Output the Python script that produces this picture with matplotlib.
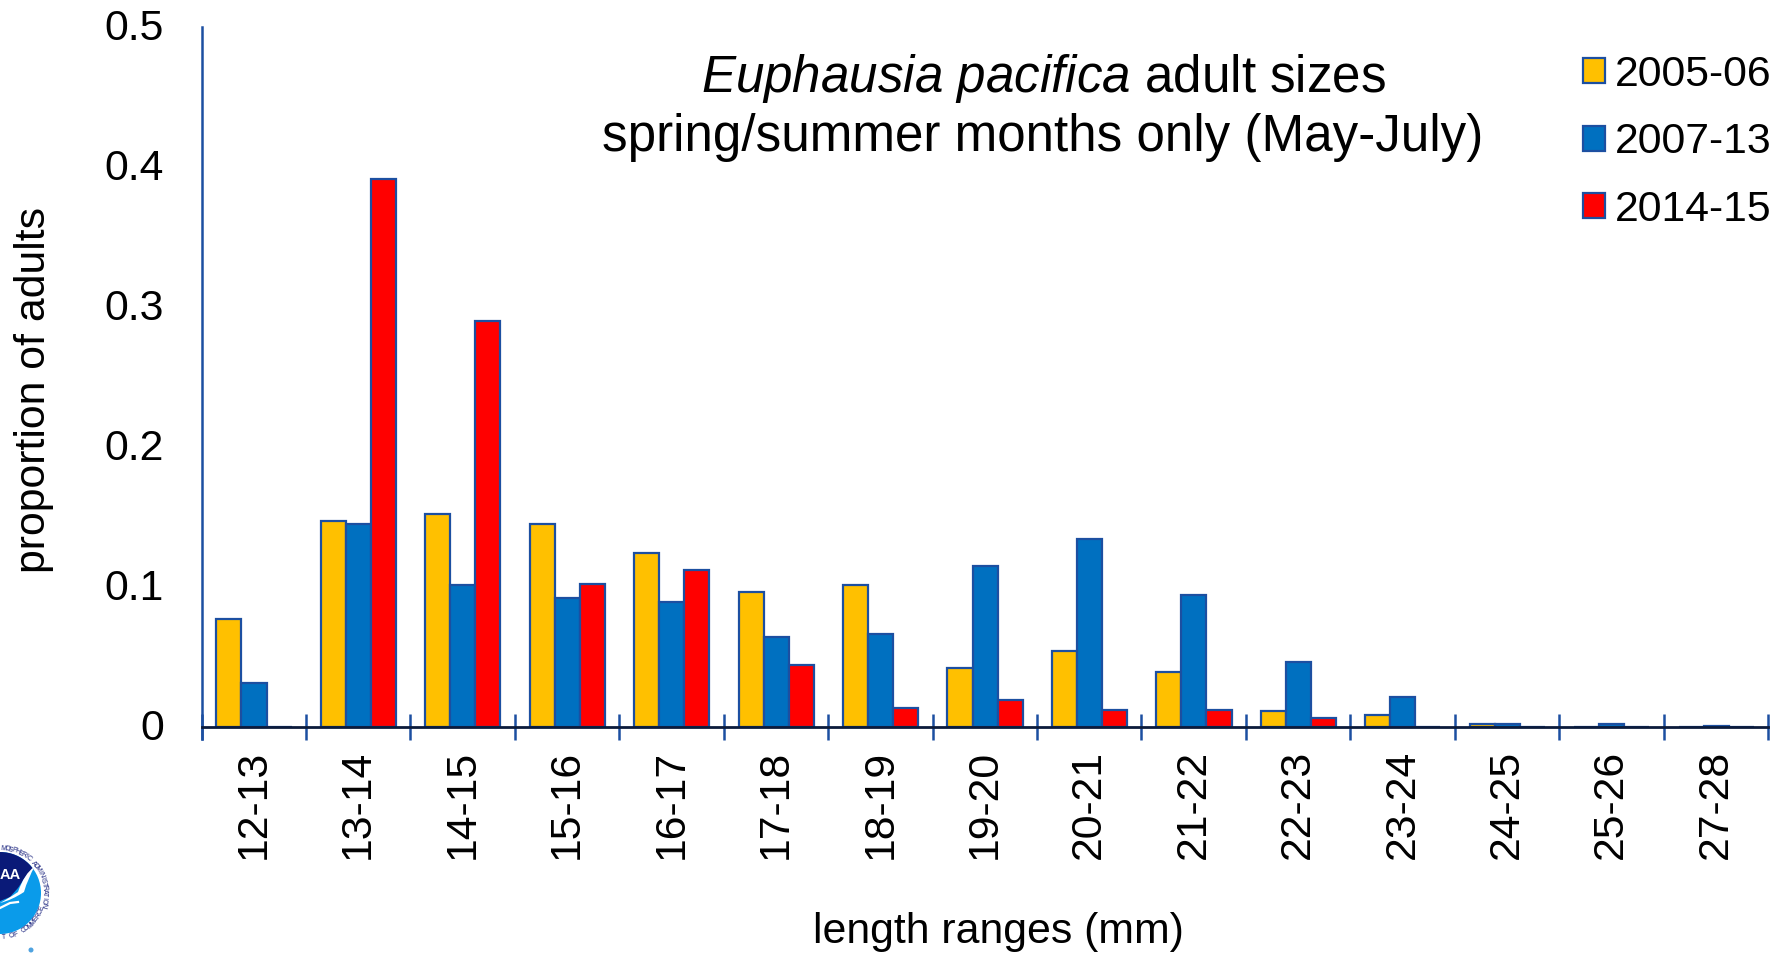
import numpy as np
import matplotlib
matplotlib.use("Agg")
import matplotlib.pyplot as plt
from matplotlib.patches import Circle, PathPatch
from matplotlib.path import Path
from matplotlib.transforms import ScaledTranslation

categories = ["12-13","13-14","14-15","15-16","16-17","17-18","18-19","19-20","20-21","21-22","22-23","23-24","24-25","25-26","27-28"]
series_labels = ["2005-06","2007-13","2014-15"]
s2005 = [0.077,0.147,0.152,0.145,0.124,0.096,0.101,0.042,0.054,0.039,0.011,0.008,0.002,0.0,0.0]
s2007 = [0.031,0.145,0.101,0.092,0.089,0.064,0.066,0.115,0.134,0.094,0.046,0.021,0.002,0.0015,0.0005]
s2014 = [0.0,0.391,0.290,0.102,0.112,0.044,0.013,0.019,0.012,0.012,0.006,0.0,0.0,0.0,0.0]
colors = ["#FFC000","#0070C0","#FF0000"]
yticks = [0,0.1,0.2,0.3,0.4,0.5]
ylabels = ["0","0.1","0.2","0.3","0.4","0.5"]

plt.rcParams['font.family'] = ['Liberation Sans','DejaVu Sans']
plt.rcParams['mathtext.fontset'] = 'custom'
plt.rcParams['mathtext.rm'] = 'Liberation Sans'
plt.rcParams['mathtext.it'] = 'Liberation Sans:italic'

W,H = 1786,955
fig = plt.figure(figsize=(W/100,H/100),dpi=100,facecolor='white')
L,R,T,B = 201.5,1768,27,726.5
ax = fig.add_axes([L/W,1-B/H,(R-L)/W,(B-T)/H])
EDGE = "#1C4FA1"; FS = 30.8; TFS = 36.8
x = np.arange(len(categories))
w = 0.24
for i,(vals,c,lab) in enumerate(zip([s2005,s2007,s2014],colors,series_labels)):
    ax.bar(x+(i-1)*w+0.003,vals,width=w,color=c,edgecolor=EDGE,linewidth=1.6,label=lab,zorder=2)
ax.set_xlim(-0.5,len(categories)-0.5)
ax.set_ylim(0,0.5)
for s in ('top','right'):
    ax.spines[s].set_visible(False)
ax.spines['left'].set_color(EDGE); ax.spines['left'].set_linewidth(1.8)
ax.spines['left'].set_bounds(-13/1400,0.5)
ax.spines['bottom'].set_color("#0B1B3B"); ax.spines['bottom'].set_linewidth(2); ax.spines['bottom'].set_zorder(3)
ax.set_yticks(yticks); ax.set_yticklabels(ylabels,fontsize=FS)
ax.tick_params(axis='y',length=0,pad=27)
shift = ScaledTranslation(0,1.5/72,fig.dpi_scale_trans)
for t in ax.get_yticklabels():
    t.set_transform(t.get_transform()+shift)
ax.set_xticks(x); ax.set_xticklabels(categories,rotation=90,fontsize=FS,ha='center',va='top')
ax.tick_params(axis='x',length=0,pad=17)
ax.set_xticks(np.arange(len(categories)+1)-0.5,minor=True)
ax.tick_params(axis='x',which='minor',direction='inout',length=26*0.72,width=1.8,color=EDGE)

fig.text(34/W,1-390/H,"proportion of adults",rotation=90,fontsize=FS,ha='center',va='center')
fig.text(998/W,1-932/H,"length ranges (mm)",fontsize=FS,ha='center',va='center')
fig.text(1044/W,1-92/H,r"$\mathit{Euphausia\ pacifica}$ adult sizes",fontsize=TFS,ha='center',va='baseline')
fig.text(1042.5/W,1-151/H,"spring/summer months only (May-July)",fontsize=TFS,ha='center',va='baseline')

leg = ax.legend(loc='upper left',bbox_to_anchor=(1583/W,1-55/H),bbox_transform=fig.transFigure,frameon=False,
    fontsize=FS,handlelength=0.51,handleheight=0.51,handletextpad=0.23,labelspacing=0.64,borderpad=0,borderaxespad=0)

# NOAA seal, cropped by the left edge of the image
lax = fig.add_axes([0,0,1,1]); lax.set_xlim(0,W); lax.set_ylim(H,0); lax.axis('off'); lax.patch.set_alpha(0)
cx,cy = 0,893
lax.add_patch(Circle((cx,cy),41,fc="#0A9BEA",ec='none'))
top = Path([(-41,900),(-41,840),(41,840),(36,866),(26,876),(18,888),(10,897),(0,901),(-41,901)],[1,2,2,2,2,2,2,2,2])
clip = Circle((cx,cy),41,transform=lax.transData,fc='none',ec='none'); lax.add_patch(clip)
p = PathPatch(top,fc="#0A1A78",ec='none'); lax.add_patch(p); p.set_clip_path(clip)
wave = Path([(35,866),(24,874),(18,892),(6,900),(0,903),(12,900),(24,892),(28,878),(35,866)],[1,3,3,3,3,3,3,3,79])
p2 = PathPatch(wave,fc='white',ec='none'); lax.add_patch(p2); p2.set_clip_path(clip)
lax.plot([0,10,18],[908,903,902],color='white',lw=1.6)
lax.text(10,875,"AA",color='white',fontsize=10.5,fontweight='bold',ha='center',va='center')
def arc(txt,a0,a1,r,flip=False):
    for ch,a in zip(txt,np.linspace(a0,a1,len(txt))):
        t = np.deg2rad(a)
        lax.text(cx+r*np.cos(t),cy+r*np.sin(t),ch,fontsize=5,color="#1A237E",ha='center',va='center',
                 rotation=(-a-90) if not flip else (90-a),rotation_mode='anchor')
arc("MOSPHERIC ADMINISTRATION",-85,15,44.5)
arc("T OF COMMERCE",85,20,44.5,flip=True)
lax.add_patch(Circle((31,950),2.5,fc="#4FA3E0",ec='none'))
fig.savefig("out.png",dpi=100,facecolor='white')
